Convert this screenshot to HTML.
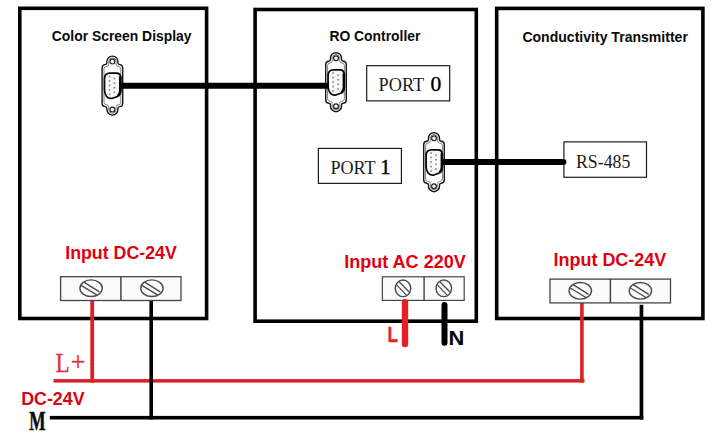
<!DOCTYPE html>
<html>
<head>
<meta charset="utf-8">
<style>
html,body{margin:0;padding:0;background:#fff;}
body{width:721px;height:435px;overflow:hidden;position:relative;}
svg{position:absolute;left:0;top:0;display:block;}
text{font-family:"Liberation Sans",sans-serif;}
.t{font-family:"Liberation Sans",sans-serif;font-weight:bold;fill:#0a0a0a;font-size:13.9px;}
.r{font-family:"Liberation Sans",sans-serif;font-weight:bold;fill:#e0000f;font-size:17.5px;}
.s{font-family:"Liberation Serif",serif;}
</style>
</head>
<body>
<svg width="721" height="435" viewBox="0 0 721 435">
<defs>
  <g id="db9">
    <!-- local coords: 22 x 60, origin top-left -->
    <path d="M5.5 6 A5.5 5.5 0 0 1 16.5 6 L16.5 7 Q16.5 8.9 18.3 9 Q21.3 9.2 21.3 12.4 L21.3 47.6 Q21.3 50.8 18.3 51 Q16.5 51.1 16.5 53 L16.5 54 A5.5 5.5 0 0 1 5.5 54 L5.5 53 Q5.5 51.1 3.7 51 Q0.7 50.8 0.7 47.6 L0.7 12.4 Q0.7 9.2 3.7 9 Q5.5 8.9 5.5 7 Z" fill="#fff" stroke="#161616" stroke-width="1.4"/>
    <path d="M7.3 6 A3.7 3.7 0 0 1 14.7 6 L14.7 8.6 Q14.7 10.7 16.7 10.8 Q19.4 10.9 19.4 13.2 L19.4 46.8 Q19.4 49.1 16.7 49.2 Q14.7 49.3 14.7 51.4 L14.7 54 A3.7 3.7 0 0 1 7.3 54 L7.3 51.4 Q7.3 49.3 5.3 49.2 Q2.6 49.1 2.6 46.8 L2.6 13.2 Q2.6 10.9 5.3 10.8 Q7.3 10.7 7.3 8.6 Z" fill="none" stroke="#5a5a5a" stroke-width="0.75"/>
    <circle cx="11" cy="6" r="2.4" fill="#fff" stroke="#1e1e1e" stroke-width="1.2"/>
    <circle cx="11" cy="54" r="2.4" fill="#fff" stroke="#1e1e1e" stroke-width="1.2"/>
    <path d="M8.4 17.6 L15 17.6 Q19.2 17.6 19.2 22 L19.2 34.5 Q19.2 39.4 15.6 41 L11.4 42.6 Q7.2 43.6 5 40.6 Q3.1 38 3.1 34 L3.1 23.4 Q3.1 17.6 8.4 17.6 Z" fill="#f9f9f9" stroke="#080808" stroke-width="1.7"/>
    <path d="M18.9 21 L18.9 35 Q18.9 38.6 16.4 40.2" fill="none" stroke="#080808" stroke-width="2.6"/>
    <g fill="#7c7c7c">
      <rect x="7.3" y="20.1" width="1.6" height="1.5"/>
      <rect x="7.3" y="24.6" width="1.6" height="1.5"/>
      <rect x="7.3" y="29.1" width="1.6" height="1.5"/>
      <rect x="7.3" y="33.6" width="1.6" height="1.5"/>
      <rect x="7.3" y="38.1" width="1.6" height="1.5"/>
      <rect x="12.2" y="22.2" width="1.6" height="1.5"/>
      <rect x="12.2" y="26.8" width="1.6" height="1.5"/>
      <rect x="12.2" y="31.4" width="1.6" height="1.5"/>
      <rect x="12.2" y="36" width="1.6" height="1.5"/>
    </g>
  </g>
  <g id="screwE">
    <ellipse cx="0" cy="0" rx="11.2" ry="8.3" fill="#fbfbfb" stroke="#4c4c4c" stroke-width="1.4"/>
    <line x1="-7.2" y1="-6.1" x2="8.3" y2="3.6" stroke="#4c4c4c" stroke-width="1.4"/>
    <line x1="-10" y1="-2.8" x2="5.6" y2="6.7" stroke="#4c4c4c" stroke-width="1.4"/>
  </g>
  <g id="screwC">
    <ellipse cx="0" cy="0" rx="7.8" ry="8.3" fill="#fbfbfb" stroke="#4c4c4c" stroke-width="1.4"/>
    <line x1="-3.9" y1="-6.6" x2="5.9" y2="3.4" stroke="#4c4c4c" stroke-width="1.3"/>
    <line x1="-6.4" y1="-3.4" x2="3.2" y2="6.6" stroke="#4c4c4c" stroke-width="1.3"/>
  </g>
</defs>

<!-- three device boxes -->
<rect x="19.8" y="8.3" width="186.8" height="310.2" fill="none" stroke="#000" stroke-width="3.6"/>
<rect x="255.1" y="9.5" width="221.2" height="311.7" fill="none" stroke="#000" stroke-width="3.6"/>
<rect x="496.7" y="8.4" width="206.2" height="310.1" fill="none" stroke="#000" stroke-width="3.6"/>

<!-- titles -->
<text class="t" x="51.8" y="40.9">Color Screen Display</text>
<text class="t" x="329.4" y="40.9">RO Controller</text>
<text class="t" x="522.4" y="42" style="font-size:14.05px">Conductivity Transmitter</text>

<!-- serial cables -->

<!-- connectors -->
<use href="#db9" x="101.4" y="55.6"/>
<use href="#db9" x="325" y="52.2"/>
<use href="#db9" x="423" y="132.2"/>

<line x1="120.8" y1="85.8" x2="328.8" y2="85.8" stroke="#000" stroke-width="6"/>
<!-- port boxes -->
<rect x="366.7" y="65.7" width="83" height="35.2" fill="#fff" stroke="#1c1c1c" stroke-width="1.2"/>
<text class="s" x="378.6" y="91.3" font-size="19" fill="#1c1c1c" textLength="45.6" lengthAdjust="spacingAndGlyphs">PORT</text>
<text class="s" x="430.6" y="91.4" font-size="21.5" fill="#000" stroke="#000" stroke-width="0.35">0</text>

<rect x="318.4" y="148.4" width="83" height="35" fill="#fff" stroke="#1c1c1c" stroke-width="1.2"/>
<text class="s" x="330.4" y="174" font-size="19" fill="#1c1c1c" textLength="45.3" lengthAdjust="spacingAndGlyphs">PORT</text>
<text class="s" x="380" y="173.9" font-size="21.5" fill="#000" stroke="#000" stroke-width="0.35">1</text>

<rect x="563.9" y="141.9" width="82.6" height="35.4" fill="#fff" stroke="#1c1c1c" stroke-width="1.2"/>
<line x1="442.5" y1="162" x2="563.4" y2="162" stroke="#000" stroke-width="6"/><circle cx="563.4" cy="162" r="3" fill="#000"/>
<text class="s" x="576" y="167.5" font-size="19" fill="#1c1c1c" textLength="54.3" lengthAdjust="spacingAndGlyphs">RS-485</text>

<!-- input labels -->
<text class="r" x="65.2" y="259.3" textLength="111.6" lengthAdjust="spacingAndGlyphs">Input DC-24V</text>
<text class="r" x="344.2" y="267.8" textLength="121.6" lengthAdjust="spacingAndGlyphs">Input AC 220V</text>
<text class="r" x="553.5" y="265.6" textLength="112.8" lengthAdjust="spacingAndGlyphs">Input DC-24V</text>

<!-- wires bottom -->
<rect x="90.3" y="300.5" width="3.8" height="82.1" fill="#dd1f2a"/>
<rect x="580.1" y="303" width="3.6" height="79.6" fill="#dd1f2a"/>
<rect x="53.5" y="379.1" width="531" height="3.5" fill="#dd1f2a"/>
<rect x="149.4" y="300.5" width="3.6" height="119" fill="#000"/>
<rect x="639.6" y="304.8" width="3.7" height="114.7" fill="#000"/>
<rect x="49.8" y="415.9" width="593.5" height="3.6" fill="#000"/>

<!-- terminal blocks -->
<rect x="60.6" y="276.7" width="120.4" height="23.8" fill="#fbfbfb" stroke="#444" stroke-width="1.3"/>
<line x1="120.9" y1="276.7" x2="120.9" y2="300.5" stroke="#444" stroke-width="1.5"/>
<use href="#screwE" x="91.1" y="288.2"/>
<use href="#screwE" x="151.9" y="288.2"/>

<rect x="382.4" y="276.8" width="81.8" height="23.6" fill="#fbfbfb" stroke="#444" stroke-width="1.2"/>
<line x1="424.1" y1="276.8" x2="424.1" y2="300.4" stroke="#444" stroke-width="1.4"/>
<use href="#screwC" x="403" y="288.3"/>
<use href="#screwC" x="443.8" y="288.3"/>

<rect x="550" y="279.1" width="120.5" height="23.8" fill="#fbfbfb" stroke="#444" stroke-width="1.3"/>
<line x1="610.4" y1="279.1" x2="610.4" y2="302.9" stroke="#444" stroke-width="1.5"/>
<use href="#screwE" x="580.3" y="290.8"/>
<use href="#screwE" x="640.4" y="290.8"/>

<rect x="471.1" y="259" width="0.7" height="2.6" fill="#f3c4cb"/>
<!-- L / N stubs -->
<line x1="405" y1="302.3" x2="405" y2="344" stroke="#e61e25" stroke-width="6.4" stroke-linecap="round"/>
<line x1="444.5" y1="304.9" x2="444.5" y2="342.7" stroke="#000" stroke-width="6" stroke-linecap="round"/>
<text x="387.5" y="342" font-size="21.3" font-weight="bold" fill="#e8232b" stroke="#e8232b" stroke-width="0.3" textLength="10.6" lengthAdjust="spacingAndGlyphs">L</text>
<text x="448.6" y="345.2" font-size="20.6" font-weight="bold" fill="#000" textLength="15.8" lengthAdjust="spacingAndGlyphs">N</text>

<!-- bottom-left labels -->
<text class="s" x="55.4" y="371.5" font-size="27.5" fill="#dc3540" stroke="#dc3540" stroke-width="0.4" textLength="14.2" lengthAdjust="spacingAndGlyphs">L</text>
<text class="s" x="70.8" y="370.8" font-size="27" fill="#dc3540" stroke="#dc3540" stroke-width="0.4" textLength="14.6" lengthAdjust="spacingAndGlyphs">+</text>
<text class="r" x="21.2" y="404.6" font-size="17.5" textLength="63.4" lengthAdjust="spacingAndGlyphs">DC-24V</text>
<text class="s" x="29.2" y="429.7" font-size="27" font-weight="bold" fill="#0a0a14" stroke="#0a0a14" stroke-width="0.5" textLength="16.3" lengthAdjust="spacingAndGlyphs">M</text>
</svg>
</body>
</html>
